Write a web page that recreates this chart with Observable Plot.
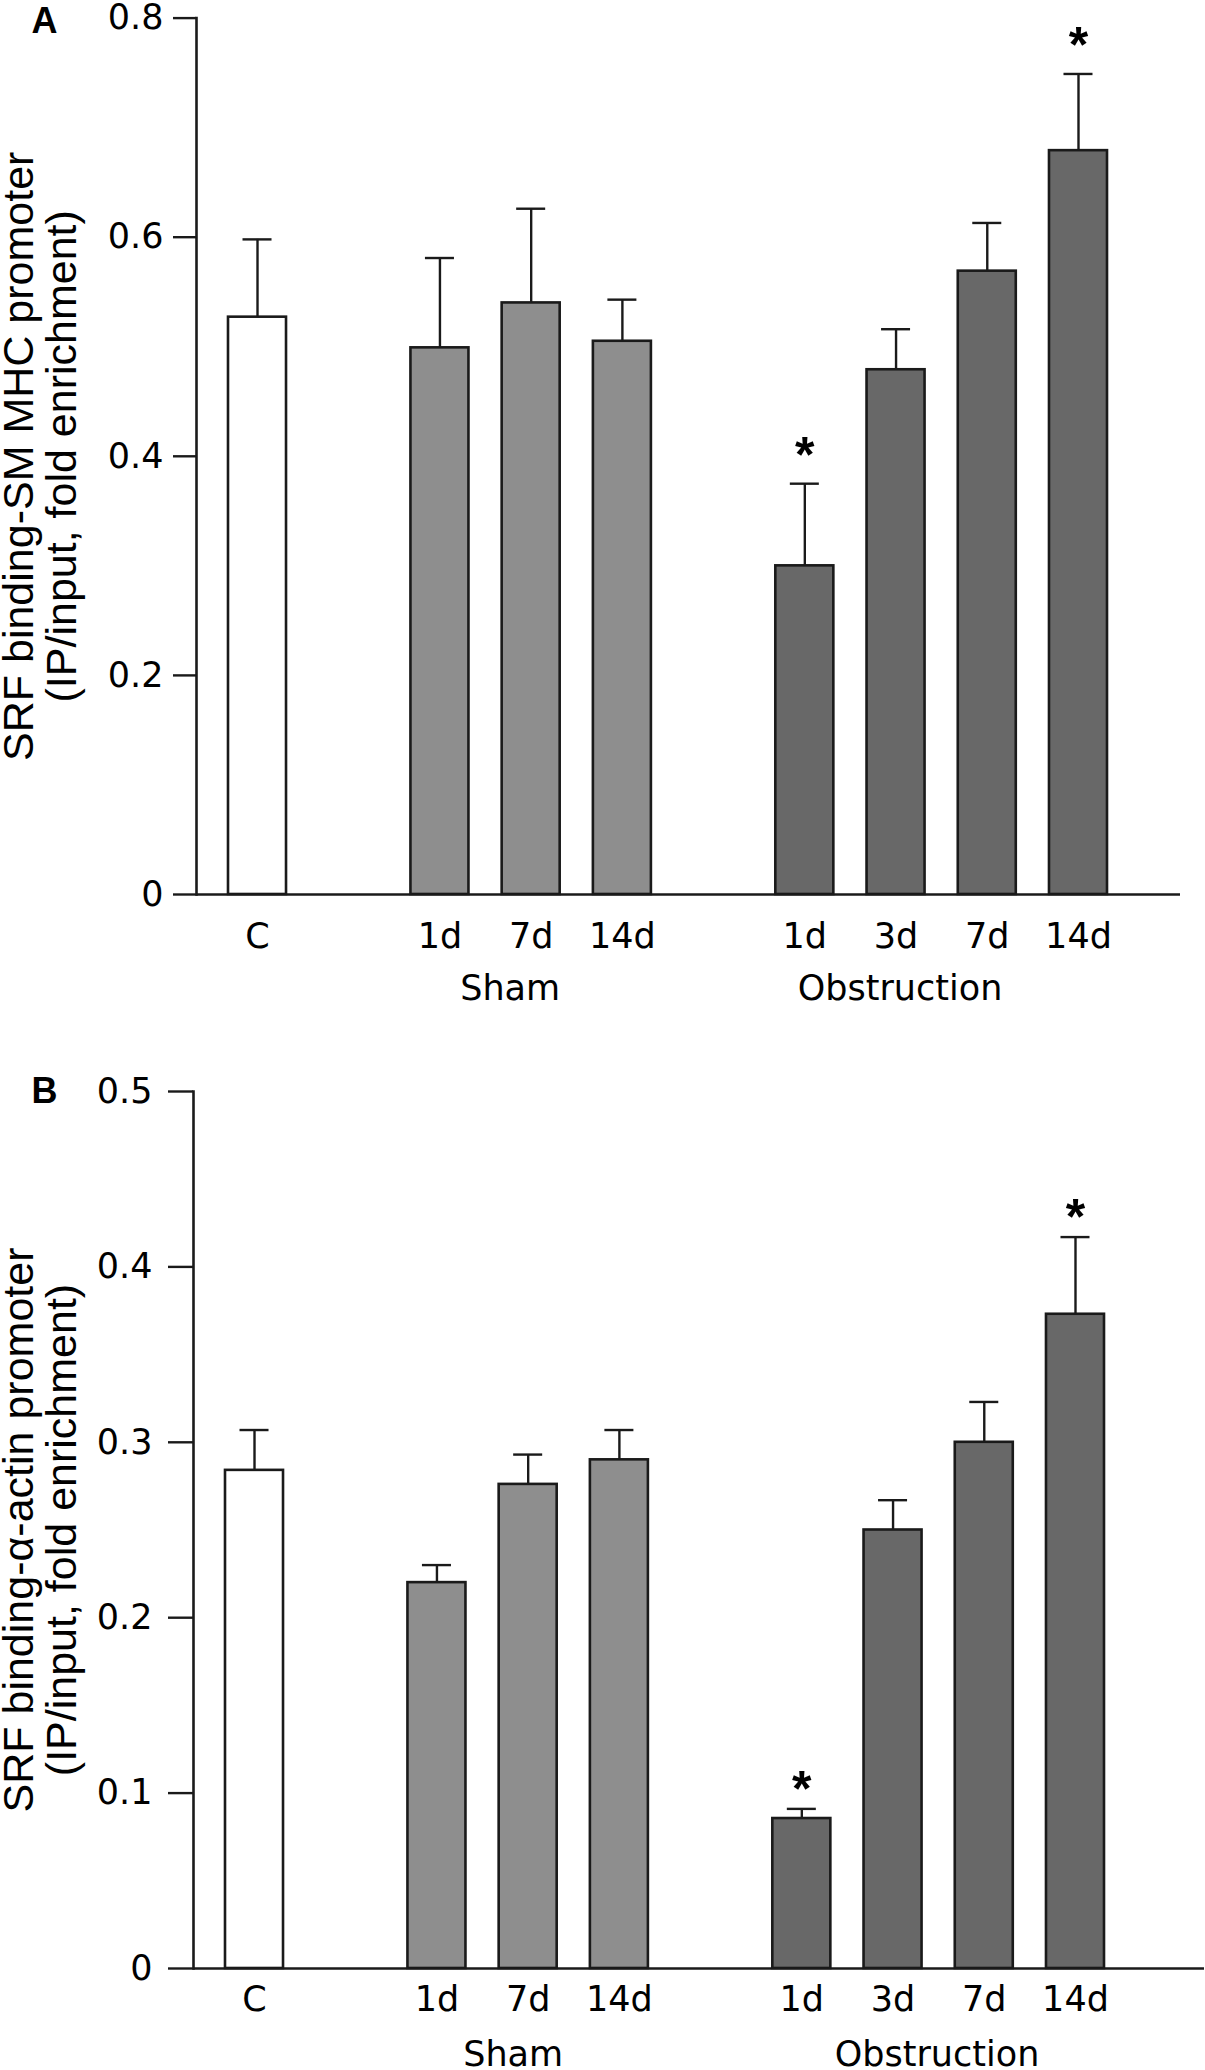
<!DOCTYPE html>
<html><head><meta charset="utf-8">
<script src="https://cdn.jsdelivr.net/npm/d3@7"></script>
<script src="https://cdn.jsdelivr.net/npm/@observablehq/plot@0.6"></script>
<style>
body{margin:0;background:#fff}
#chart svg{display:block}
</style>
</head><body><div id="chart"></div>
<script>
// ---- data ----
const slots = ["C","gap1","S1","S7","S14","gap2","O1","O3","O7","O14"];
const keys = ["C","S1","S7","S14","O1","O3","O7","O14"];
const groups = ["Control","Sham","Sham","Sham","Obstruction","Obstruction","Obstruction","Obstruction"];
const tickLabels = ["C","1d","7d","14d","1d","3d","7d","14d"];
const meanA = [0.527,0.499,0.540,0.505,0.300,0.479,0.569,0.679];
const semA  = [0.071,0.082,0.086,0.038,0.075,0.037,0.044,0.070];
const meanB = [0.284,0.220,0.276,0.290,0.0855,0.250,0.300,0.373];
const semB  = [0.023,0.010,0.017,0.017,0.0055,0.017,0.023,0.044];
const sigA = ["O1","O14"];
const sigB = ["O1","O14"];
const yTicksA = [0,0.2,0.4,0.6,0.8];
const yTicksB = [0,0.1,0.2,0.3,0.4,0.5];
const titleA = "SRF binding-SM MHC promoter\n(IP/input, fold enrichment)";
const titleB = "SRF binding-\u03b1-actin promoter\n(IP/input, fold enrichment)";

const ink = "#1a1a1a";
const tickFont = "DejaVu Sans";
const sans = "Liberation Sans, Arial, Helvetica, sans-serif";

function panel(o) {
  const rows = keys.map((k,i)=>({key:k, group:groups[i], mean:o.mean[i], top:o.mean[i]+o.sem[i]}));
  const labelOf = new Map(keys.map((k,i)=>[k,tickLabels[i]]));
  const stars = rows.filter(r => o.sig.includes(r.key));
  return Plot.plot({
    width: 1205, height: o.height,
    marginTop: o.marginTop, marginBottom: o.marginBottom,
    marginLeft: o.marginLeft, marginRight: o.marginRight,
    style: {background:"white", color:"black", overflow:"visible"},
    x: {type:"band", domain: slots, range: o.xRange, paddingInner: 0.364, paddingOuter: 0, round: false, axis: null},
    y: {domain:[0,o.yMax], axis:null},
    color: {domain:["Control","Sham","Obstruction"], range:["#ffffff","#8e8e8e","#686868"]},
    marks: [
      Plot.ruleX(rows, {x:"key", y1:"mean", y2:"top", stroke:ink, strokeWidth:2.4}),
      Plot.tickY(rows, {x:"key", y:"top", stroke:ink, strokeWidth:2.4, insetLeft:14.5, insetRight:14.5}),
      Plot.barY(rows, {x:"key", y:"mean", fill:"group", stroke:ink, strokeWidth:2.6}),
      Plot.ruleY([0], {stroke:ink, strokeWidth:2.6}),
      Plot.frame({anchor:"left", stroke:ink, strokeWidth:2.6}),
      Plot.axisY({ticks:o.yTicks, tickSize:o.tickSize, tickPadding:o.tickPad, strokeWidth:2.4, stroke:ink,
        tickFormat: d => d === 0 ? "0" : d.toFixed(1), fontSize:35, fontFamily:tickFont, label:null}),
      Plot.axisX({ticks:keys, tickSize:0, tickPadding:o.xTickPad, tickFormat: k => labelOf.get(k),
        fontSize:35, fontFamily:tickFont, label:null}),
      Plot.text([0], {x:()=>"S7", frameAnchor:"bottom", text:()=>"Sham", dx:o.shamDx, dy:o.groupDy,
        lineAnchor:"top", fontSize:35, fontFamily:tickFont}),
      Plot.text([0], {x:()=>"O3", frameAnchor:"bottom", text:()=>"Obstruction", dx:o.obsDx, dy:o.groupDy,
        lineAnchor:"top", fontSize:35, fontFamily:tickFont}),
      Plot.text(stars, {x:"key", y:"top", text:()=>"*", dy:o.starDy, lineAnchor:"middle",
        fontSize:50, fontWeight:"bold", fontFamily:sans}),
      Plot.text([0], {frameAnchor:"left", text:()=>o.title, rotate:-90, dx:o.titleDx, dy:0,
        textAnchor:"middle", lineAnchor:"middle", lineHeight:1.02, fontSize:43, fontFamily:sans}),
      Plot.text([0], {frameAnchor:"top-left", text:()=>o.letter, dx:o.letterDx, dy:o.letterDy,
        lineAnchor:"top", textAnchor:"middle", fontSize:36, fontWeight:"bold", fontFamily:sans})
    ]
  });
}

const chart = document.getElementById("chart");
chart.appendChild(panel({
  mean: meanA, sem: semA, sig: sigA, letter: "A", yTicks: yTicksA, yMax: 0.8, title: titleA,
  height: 1040, marginTop: 17.6, marginBottom: 146, marginLeft: 196, marginRight: 25,
  xRange: [228, 1107], tickSize: 23, tickPad: 10, xTickPad: 29, groupDy: 81,
  shamDx: -21, obsDx: 4, starDy: -28, titleDx: -156, letterDx: -152, letterDy: -10.6
}));
chart.appendChild(panel({
  mean: meanB, sem: semB, sig: sigB, letter: "B", yTicks: yTicksB, yMax: 0.5, title: titleB,
  height: 1030, marginTop: 51, marginBottom: 102, marginLeft: 193, marginRight: 1,
  xRange: [225, 1104], tickSize: 25, tickPad: 16, xTickPad: 18, groupDy: 73,
  shamDx: -15, obsDx: 44, starDy: -19, titleDx: -153, letterDx: -149, letterDy: -14
}));
</script>
</body></html>
